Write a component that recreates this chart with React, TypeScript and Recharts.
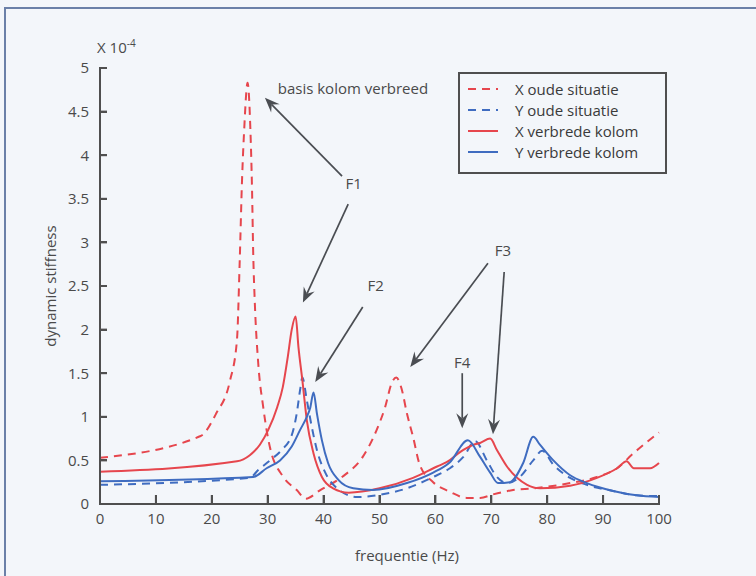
import React from 'react';
import { LineChart, Line, XAxis, YAxis, ReferenceLine } from 'recharts';

// ---- data (frequency in Hz, dynamic stiffness in units of 1e-4) ----
const xOudeFreq = [0, 18, 20.8, 23.2, 24.5, 25.0, 25.4, 25.8, 26.4, 26.9, 27.2, 27.4, 27.7, 28.3, 29.2, 30.4, 32.8, 35.2, 36.8, 39.4, 43.3, 47, 49.5, 51, 52.2, 53, 54, 54.9, 56, 57.2, 59.6, 62.6, 65.6, 68, 70.3, 73.9, 77.5, 84.1, 88.9, 92.5, 95.4, 100];
const xOudeVal = [0.53, 0.78, 1.04, 1.4, 1.88, 2.8, 3.7, 4.3, 4.83, 4.3, 3.6, 2.9, 2.3, 1.62, 1.11, 0.65, 0.31, 0.16, 0.06, 0.16, 0.31, 0.54, 0.85, 1.11, 1.39, 1.45, 1.31, 1.04, 0.77, 0.45, 0.25, 0.14, 0.07, 0.07, 0.11, 0.16, 0.18, 0.24, 0.31, 0.41, 0.58, 0.82];

const yOudeFreq = [0, 26.8, 28.3, 30.4, 32.5, 34.3, 35.2, 35.8, 36.2, 37, 37.9, 38.8, 40.3, 42.4, 46, 49.5, 54.9, 59.6, 62.6, 65, 67.1, 69.2, 71, 72.8, 75.1, 77.5, 79.1, 81.1, 84.1, 87.1, 91.8, 96, 100];
const yOudeVal = [0.22, 0.3, 0.39, 0.5, 0.62, 0.79, 1.04, 1.31, 1.45, 1.19, 0.88, 0.62, 0.36, 0.18, 0.08, 0.1, 0.18, 0.31, 0.41, 0.54, 0.72, 0.5, 0.31, 0.24, 0.31, 0.5, 0.61, 0.45, 0.3, 0.22, 0.15, 0.1, 0.09];

const xVerbFreq = [0, 24.5, 26.8, 28.6, 30.1, 31.7, 32.7, 33.6, 34.3, 35.0, 35.5, 36.2, 37, 38.2, 39.7, 41.7, 44.5, 50, 56, 60.3, 62, 65, 66.8, 68, 69.8, 71, 72.8, 74.6, 76.4, 78.7, 84.1, 88.9, 92.5, 94.2, 95.5, 98.4, 100];
const xVerbVal = [0.37, 0.49, 0.56, 0.68, 0.85, 1.11, 1.34, 1.69, 2.0, 2.15, 1.8, 1.42, 0.96, 0.58, 0.31, 0.18, 0.13, 0.18, 0.3, 0.43, 0.48, 0.62, 0.68, 0.7, 0.75, 0.62, 0.43, 0.3, 0.22, 0.18, 0.21, 0.3, 0.41, 0.49, 0.41, 0.41, 0.47];

const yVerbFreq = [0, 27.4, 29.8, 32.2, 34.3, 35.8, 37, 37.6, 38.2, 38.8, 39.7, 40.8, 42.6, 45.3, 48.8, 54.9, 59.6, 62.6, 65.8, 68, 69.8, 71.2, 73.3, 75.7, 77.5, 78.7, 81.1, 84.1, 87.1, 91.8, 96, 100];
const yVerbVal = [0.26, 0.31, 0.41, 0.5, 0.66, 0.85, 1.0, 1.1, 1.28, 1.04, 0.73, 0.47, 0.28, 0.18, 0.16, 0.24, 0.36, 0.48, 0.73, 0.54, 0.36, 0.24, 0.25, 0.47, 0.77, 0.68, 0.5, 0.33, 0.24, 0.15, 0.1, 0.08];

const seriesNames = ['X oude situatie', 'Y oude situatie', 'X verbrede kolom', 'Y verbrede kolom'];

const xTicks = [0, 10, 20, 30, 40, 50, 60, 70, 80, 90, 100];
const yTicks = [0, 0.5, 1, 1.5, 2, 2.5, 3, 3.5, 4, 4.5, 5];
const xDomain = [0, 100];
const yDomain = [0, 5];

// annotation arrows in data coordinates: [fromFreq, fromVal, toFreq, toVal]
const arrowSegments = [
  [43.3, 3.76, 29.5, 4.66],
  [44.4, 3.44, 36.3, 2.31],
  [47.0, 2.26, 38.5, 1.4],
  [69.4, 2.76, 55.5, 1.57],
  [72.3, 2.66, 70.3, 0.8],
  [64.8, 1.5, 64.8, 0.87],
];
const annotationLabels = [
  { text: 'basis kolom verbreed', f: 31.8, v: 4.77, anchor: 'start' },
  { text: 'F1', f: 45.4, v: 3.68, anchor: 'middle' },
  { text: 'F2', f: 49.3, v: 2.51, anchor: 'middle' },
  { text: 'F3', f: 72.1, v: 2.91, anchor: 'middle' },
  { text: 'F4', f: 64.8, v: 1.63, anchor: 'middle' },
];

const toPoints = (f: number[], v: number[]) => f.map((x, i) => ({ f: x, v: v[i] }));

const RED = '#e6464d';
const BLUE = '#3f6cc0';
const series = [
  { name: seriesNames[0], data: toPoints(xOudeFreq, xOudeVal), color: RED, dash: '8 6' },
  { name: seriesNames[1], data: toPoints(yOudeFreq, yOudeVal), color: BLUE, dash: '8 6' },
  { name: seriesNames[2], data: toPoints(xVerbFreq, xVerbVal), color: RED, dash: undefined },
  { name: seriesNames[3], data: toPoints(yVerbFreq, yVerbVal), color: BLUE, dash: undefined },
];

const FONT = '"Open Sans", "DejaVu Sans", sans-serif';
const TEXT = '#4a4a4a';
const AXIS = '#4f4f4f';

// plot frame (layout)
const W = 756;
const H = 576;
const PLOT = { left: 100, top: 68, right: 659, bottom: 504 };
const Y_AXIS_W = 40;
const X_AXIS_H = 30;

const ArrowShape = (p: any) => {
  const { x1, y1, x2, y2 } = p;
  const dx = x2 - x1;
  const dy = y2 - y1;
  const len = Math.hypot(dx, dy) || 1;
  const ux = dx / len;
  const uy = dy / len;
  const hl = 15;
  const hw = 6;
  const bx = x2 - ux * hl;
  const by = y2 - uy * hl;
  const nx = -uy;
  const ny = ux;
  const kx = x2 - ux * hl * 0.65;
  const ky = y2 - uy * hl * 0.65;
  return (
    <g>
      <line x1={x1} y1={y1} x2={kx} y2={ky} stroke="#4a4d52" strokeWidth={1.7} />
      <polygon
        points={`${x2},${y2} ${bx + nx * hw},${by + ny * hw} ${kx},${ky} ${bx - nx * hw},${by - ny * hw}`}
        fill="#4a4d52"
      />
    </g>
  );
};

const textShape = (text: string, anchor: string) => (p: any) => (
  <text x={p.x1} y={p.y1} textAnchor={anchor as any} dominantBaseline="central" fill={TEXT} fontSize={15} fontFamily={FONT}>
    {text}
  </text>
);

const tickStyle = { fill: TEXT, fontSize: 15, fontFamily: FONT };

// axis frame drawn with CSS boxes (axis lines + inward tick marks)
const AxisFrame = () => {
  const px = (t: number) => PLOT.left + ((t - xDomain[0]) / (xDomain[1] - xDomain[0])) * (PLOT.right - PLOT.left);
  const py = (t: number) => PLOT.bottom - ((t - yDomain[0]) / (yDomain[1] - yDomain[0])) * (PLOT.bottom - PLOT.top);
  const box = (l: number, t: number, w: number, h: number, key: string) => (
    <div key={key} style={{ position: 'absolute', left: l, top: t, width: w, height: h, background: AXIS }} />
  );
  return (
    <div style={{ position: 'absolute', left: 0, top: 0, width: W, height: H, pointerEvents: 'none' }}>
      {box(PLOT.left - 1, PLOT.bottom - 1, PLOT.right - PLOT.left + 2, 2, 'xa')}
      {box(PLOT.left - 1, PLOT.top - 1, 2, PLOT.bottom - PLOT.top + 2, 'ya')}
      {xTicks.map((t) => box(Math.round(px(t)) - 1, PLOT.bottom - 9, 2, 9, 'xt' + t))}
      {yTicks.map((t) => box(PLOT.left, Math.round(py(t)) - 1, 7, 2, 'yt' + t))}
    </div>
  );
};

const LegendBox = () => (
  <div
    style={{
      position: 'absolute',
      left: 458,
      top: 72,
      border: '2px solid #4f4f4f',
      boxSizing: 'border-box',
      width: 209,
      height: 102,
      padding: '4px 0 0 8px',
      fontFamily: FONT,
      fontSize: 15,
      color: '#3a3a3a',
    }}
  >
    {series.map((s) => (
      <div key={s.name} style={{ display: 'flex', alignItems: 'center', height: 21 }}>
        <svg width={30} height={4} style={{ marginRight: 17 }}>
          <line x1={0} y1={2} x2={30} y2={2} stroke={s.color} strokeWidth={2} strokeDasharray={s.dash} />
        </svg>
        <span style={{ whiteSpace: 'nowrap' }}>{s.name}</span>
      </div>
    ))}
  </div>
);

const overlayText: React.CSSProperties = {
  position: 'absolute',
  fontFamily: FONT,
  fontSize: 15,
  color: TEXT,
  whiteSpace: 'nowrap',
  lineHeight: '20px',
};

export default function App() {
  return (
    <div style={{ position: 'absolute', left: 0, top: 0, width: W, height: H, overflow: 'hidden', background: '#f3f6fa' }}>
      <div style={{ position: 'absolute', left: 4, top: 7, width: 800, height: 700, border: '2px solid #6b80a8', boxSizing: 'border-box' }} />
      <div style={{ position: 'absolute', left: 0, top: 0 }}>
        <LineChart
          width={W}
          height={H}
          margin={{ top: PLOT.top, right: W - PLOT.right, bottom: H - PLOT.bottom - X_AXIS_H, left: PLOT.left - Y_AXIS_W }}
        >
          <XAxis
            dataKey="f"
            type="number"
            domain={xDomain}
            ticks={xTicks}
            height={X_AXIS_H}
            axisLine={{ stroke: AXIS, strokeWidth: 2 }}
            tickLine={{ stroke: AXIS, strokeWidth: 2 }}
            tickSize={-9}
            tickMargin={18}
            tick={tickStyle}
          />
          <YAxis
            type="number"
            domain={yDomain}
            ticks={yTicks}
            width={Y_AXIS_W}
            axisLine={{ stroke: AXIS, strokeWidth: 2 }}
            tickLine={{ stroke: AXIS, strokeWidth: 2 }}
            tickSize={-7}
            tickMargin={18}
            tick={tickStyle}
          />
          {series.map((s) => (
            <Line
              key={s.name}
              data={s.data}
              dataKey="v"
              name={s.name}
              type="monotoneX"
              stroke={s.color}
              strokeWidth={2}
              strokeDasharray={s.dash}
              dot={false}
              activeDot={false}
              isAnimationActive={false}
            />
          ))}
          {arrowSegments.map((a, i) => (
            <ReferenceLine
              key={'arr' + i}
              segment={[{ x: a[0], y: a[1] }, { x: a[2], y: a[3] }]}
              ifOverflow="visible"
              shape={ArrowShape}
            />
          ))}
          {annotationLabels.map((l) => (
            <ReferenceLine
              key={l.text}
              segment={[{ x: l.f, y: l.v }, { x: l.f, y: l.v }]}
              ifOverflow="visible"
              shape={textShape(l.text, l.anchor)}
            />
          ))}
        </LineChart>
      </div>
      <AxisFrame />
      <div style={{ ...overlayText, left: 97, top: 37 }}>
        X 10<sup style={{ fontSize: 10, verticalAlign: 'top', position: 'relative', top: -4 }}>-4</sup>
      </div>
      <div style={{ ...overlayText, left: 50, top: 286, transform: 'translate(-50%, -50%) rotate(-90deg)' }}>dynamic stiffness</div>
      <div style={{ ...overlayText, left: 407, top: 555, transform: 'translate(-50%, -50%)' }}>frequentie (Hz)</div>
      <LegendBox />
    </div>
  );
}
